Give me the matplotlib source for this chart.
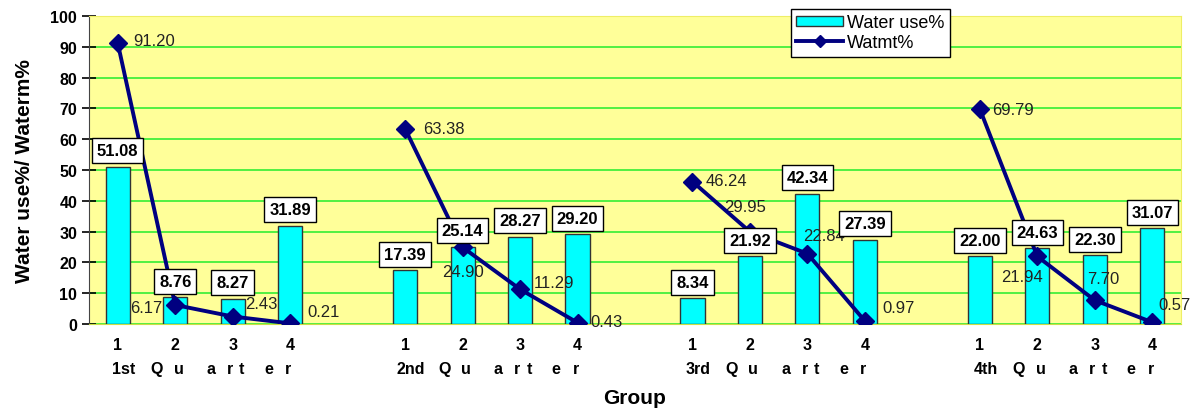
import numpy as np
import matplotlib
matplotlib.use("Agg")
import matplotlib.pyplot as plt
from matplotlib.transforms import offset_copy

plt.rcParams["font.family"] = ["Liberation Sans", "DejaVu Sans"]

quarters = ["1st", "2nd", "3rd", "4th"]
groups = ["1", "2", "3", "4"]
water_use = [
    [51.08, 8.76, 8.27, 31.89],
    [17.39, 25.14, 28.27, 29.20],
    [8.34, 21.92, 42.34, 27.39],
    [22.00, 24.63, 22.30, 31.07],
]
watmt = [
    [91.20, 6.17, 2.43, 0.21],
    [63.38, 24.90, 11.29, 0.43],
    [46.24, 29.95, 22.84, 0.97],
    [69.79, 21.94, 7.70, 0.57],
]
# label placement for the line values (pixels dx, dy, alignment)
line_lbl = [
    [(16, 3, "left"), (-13, -3, "right"), (12, 13, "left"), (17, 12, "left")],
    [(18, 0, "left"), (0, -24, "center"), (14, 7, "left"), (13, 1, "left")],
    [(13, 1, "left"), (-5, 25, "center"), (-4, 18, "left"), (17, 14, "left")],
    [(12, 0, "left"), (-15, -20, "center"), (8, 22, "center"), (6, 18, "left")],
]
# letters of the second row "Quarter", spread like the original
row2_chars = ["Q", "u", "a", "r", "t", "e", "r"]
row2_off = [0.68, 1.06, 1.62, 1.95, 2.16, 2.63, 2.97]

fig = plt.figure(figsize=(11.91, 4.10), dpi=100)
ax = fig.add_axes([89 / 1191, 1 - 325 / 410, 1092 / 1191, 308 / 410])
ax.set_facecolor("#FFFF99")

n_slots = 5 * len(quarters) - 1
bar_h = line_h = None
for qi in range(len(quarters)):
    xs = np.arange(4) + 5 * qi
    bars = ax.bar(xs, water_use[qi], width=0.42, color="#00FFFF",
                  edgecolor="#333333", linewidth=1, zorder=3)
    for x, v in zip(xs, water_use[qi]):
        t = offset_copy(ax.transData, fig=fig, x=0, y=16, units="dots")
        ax.text(x, v, f"{v:.2f}", transform=t, ha="center", va="center",
                fontsize=12, fontweight="bold", zorder=6,
                bbox=dict(boxstyle="square,pad=0.3", fc="white", ec="black", lw=1))
    line, = ax.plot(xs, watmt[qi], color="#000080", lw=2.8, marker="D", ms=9,
                    zorder=5)
    if qi == 0:
        bar_h, line_h = bars, line
    for x, v, (dx, dy, ha) in zip(xs, watmt[qi], line_lbl[qi]):
        t = offset_copy(ax.transData, fig=fig, x=dx, y=dy, units="dots")
        ax.text(x, v, f"{v:.2f}", transform=t, ha=ha, va="center",
                fontsize=12, color="#222222", zorder=4, clip_on=False)
    # second row of category labels
    ax.text(xs[0] + 0.1, -14.5, quarters[qi], ha="center", va="center",
            fontsize=11.5, fontweight="bold")
    for ch, off in zip(row2_chars, row2_off):
        ax.text(xs[0] + off, -14.5, ch, ha="center", va="center",
                fontsize=11.5, fontweight="bold")

ax.set_xlim(-0.5, n_slots - 0.5)
ax.set_ylim(0, 100)
ax.set_yticks(np.arange(0, 101, 10))
ax.yaxis.grid(True, color="#33EE33", lw=1.2, zorder=0)
ax.set_axisbelow(True)

tick_pos = [5 * qi + g for qi in range(len(quarters)) for g in range(4)]
ax.set_xticks(tick_pos)
ax.set_xticklabels(groups * len(quarters), fontweight="bold", fontsize=11.5)
ax.tick_params(axis="x", length=0, pad=9)
ax.tick_params(axis="y", direction="inout", length=10, labelsize=11.5, width=1.2)
for lbl in ax.get_yticklabels():
    lbl.set_fontweight("bold")

for s in ["top", "right"]:
    ax.spines[s].set_color("#EEEE66")
ax.spines["bottom"].set_color("#CCDD44")
ax.spines["left"].set_color("#444444")

ax.set_ylabel("Water use%/ Waterm%", fontsize=15, fontweight="bold", labelpad=12)
fig.text(635 / 1191, 1 - 399 / 410, "Group", ha="center", va="center",
         fontsize=15, fontweight="bold")

leg = ax.legend([bar_h, line_h], ["Water use%", "Watmt%"], loc="upper left",
                bbox_to_anchor=(791 / 1191, 1 - 10 / 410),
                bbox_transform=fig.transFigure, fancybox=False, framealpha=1,
                edgecolor="black", fontsize=13, handlelength=2.6,
                handleheight=0.5, borderpad=0.3, borderaxespad=0,
                labelspacing=0.15, handletextpad=0.2, markerscale=0.7)
leg.set_zorder(10)

fig.savefig("out.png", dpi=100)
